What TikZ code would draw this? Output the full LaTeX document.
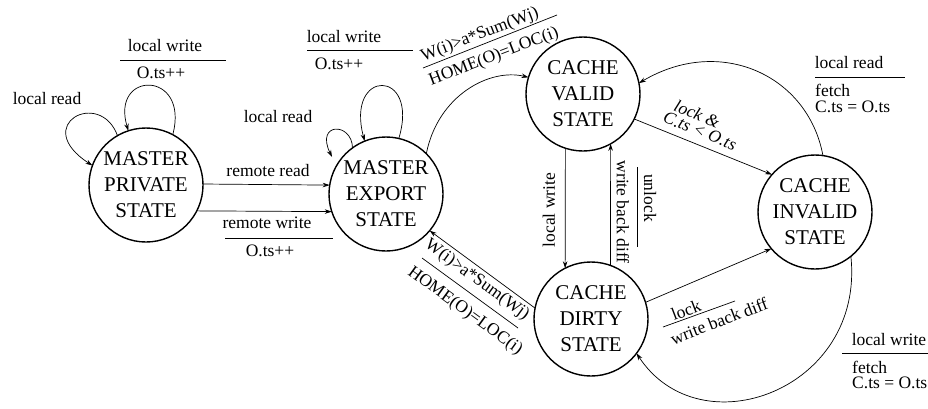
\documentclass[tikz,border=0pt]{standalone}
\usepackage{fontspec}
\setmainfont{Liberation Serif}
\usetikzlibrary{arrows.meta}
\begin{document}
\begin{tikzpicture}[x=1pt,y=-1pt,
  state/.style={circle,draw,line width=1.4pt,minimum size=114pt,inner sep=0pt,
    outer sep=0pt,align=center,font=\fontsize{21}{26}\selectfont},
  lbl/.style={inner sep=0pt,font=\fontsize{17.5}{20}\selectfont},
  ilbl/.style={lbl,font=\fontsize{17.5}{20}\selectfont\itshape},
  edge/.style={line width=0.7pt,-{Stealth[length=7pt,width=4.5pt]}},
  bar/.style={line width=0.7pt}]
\useasboundingbox (0,0) rectangle (928,408);

% states
\node[state] (mp) at (146,185) {MASTER\\PRIVATE\\STATE};
\node[state] (me) at (386,194) {MASTER\\EXPORT\\STATE};
\node[state] (cv) at (583,94)  {CACHE\\VALID\\STATE};
\node[state] (ci) at (815,212) {CACHE\\INVALID\\STATE};
\node[state] (cd) at (591,319) {CACHE\\DIRTY\\STATE};

% master private: self loops
\draw[edge] (mp.120) .. controls (100,88) and (30,125) .. (mp.160);
\node[lbl] (mplr) at (47,99) {local read};
\draw[edge] (mp.62) .. controls (190,70) and (110,70) .. (mp.108);
\node[lbl] (mplw) at (165,46) {local write};
\draw[bar] (120,60) -- (226,60);
\node[lbl] (mpts) at (161,73) {O.ts++};

% master private -> master export
\draw[edge] (mp.1) -- (me.171);
\node[lbl] (rr) at (268,171) {remote read};
\draw[edge] (mp.-27) -- (me.198);
\node[lbl] (rw) at (267,223) {remote write};
\draw[bar] (225,238) -- (333,238);
\node[lbl] (rwts) at (270,251) {O.ts++};

% master export: self loops
\coordinate (mrd) at (332,157);
\draw[edge] (me.126) .. controls (352,122) and (315,122) .. (mrd);
\node[lbl] (melr) at (278,117) {local read};
\draw[edge] (me.77) .. controls (420,68) and (345,68) .. (me.112);
\node[lbl] (melw) at (344,37) {local write};
\draw[bar] (307,50) -- (413,50);
\node[lbl] (mets) at (339,64) {O.ts++};

% master export -> cache valid
\draw[edge] (me.45) .. controls (438,95) and (490,68) .. (cv.163);
\draw[bar] (423,68) -- (557,15);
\node[lbl,rotate=21] (wa) at (480,35) {W(i)>a*Sum(Wj)};
\node[lbl,rotate=21] (ha) at (494,57) {HOME(O)=LOC(i)};

% cache dirty -> master export
\draw[edge] (cd.169) -- (me.-40);
\draw[bar] (422,258) -- (518,328);
\node[lbl,rotate=-36] (wb) at (477,280) {W(i)>a*Sum(Wj)};
\node[lbl,rotate=-36] (hb) at (465,311) {HOME(O)=LOC(i)};

% cache valid <-> cache dirty
\draw[edge] (cv.-108) -- (cd.117);
\node[lbl,rotate=90] (vdlw) at (549,210) {local write};
\draw[edge] (cd.70.5) -- (cv.-61.7);
\node[lbl,rotate=-90] (dvwb) at (623,212) {write back diff};
\draw[bar] (637,167) -- (637,247);
\node[lbl,rotate=-90] (dvul) at (650,198) {unlock};

% cache valid -> cache invalid
\draw[edge] (cv.-26) -- (ci.139);
\node[ilbl,rotate=-22] (lk) at (697,114) {lock \&};
\node[ilbl,rotate=-22] (ct) at (700,131) {C.ts < O.ts};

% cache invalid -> cache valid
\draw[edge] (ci.82) .. controls (808,75) and (720,35) .. (cv.11);
\node[lbl] (cilr) at (849,63) {local read};
\draw[bar] (815,77) -- (905,77);
\node[lbl,anchor=west] (cif1) at (815,90) {fetch};
\node[lbl,anchor=west] (cic1) at (815,107) {C.ts = O.ts};

% cache dirty -> cache invalid
\draw[edge] (cd.17) -- (ci.220);
\draw[bar] (663,327) -- (735,301);
\node[lbl,rotate=21] (lkd) at (686,310) {lock};
\node[lbl,rotate=21] (wbd) at (719,321) {write back diff};

% cache invalid -> cache dirty
\draw[edge] (ci.-51) .. controls (865,390) and (700,450) .. (cd.-37);
\node[lbl] (cilw) at (889,340) {local write};
\draw[bar] (842,353) -- (928,353);
\node[lbl,anchor=west] (cif2) at (852,367) {fetch};
\node[lbl,anchor=west] (cic2) at (852,383) {C.ts = O.ts};
\end{tikzpicture}
\end{document}
